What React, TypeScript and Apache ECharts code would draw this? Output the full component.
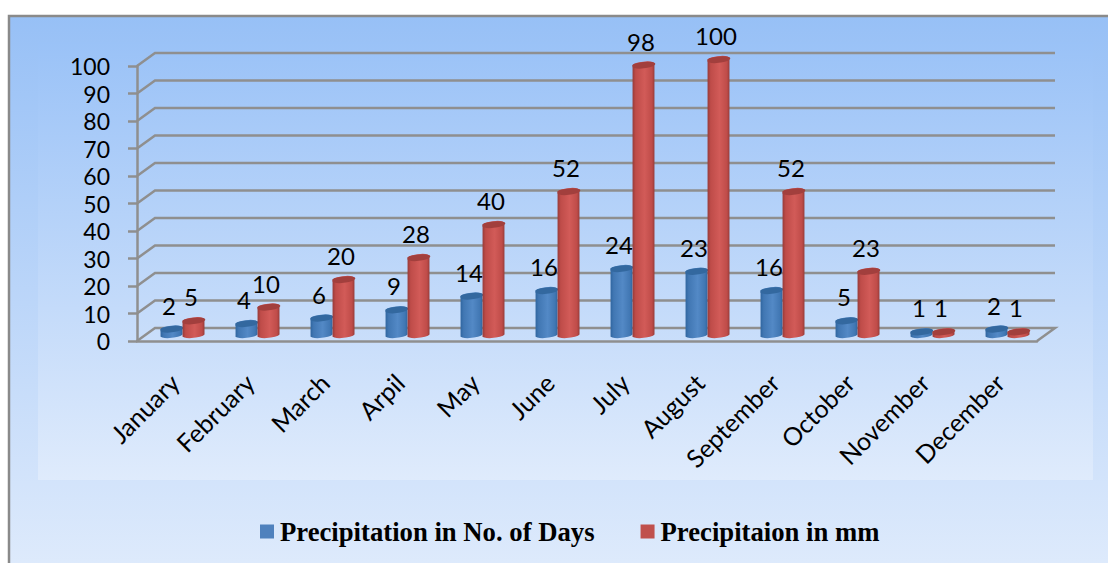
import React, { useEffect, useRef } from "react";
import * as echarts from "echarts";

const months = ["January", "February", "March", "Arpil", "May", "June", "July", "August", "September", "October", "November", "December"];
const rainyDays = [2, 4, 6, 9, 14, 16, 24, 23, 16, 5, 1, 2];
const rainfallMm = [5, 10, 20, 28, 40, 52, 98, 100, 52, 23, 1, 1];
const levels = [0, 10, 20, 30, 40, 50, 60, 70, 80, 90, 100];
const daysName = "Precipitation in No. of Days";
const mmName = "Precipitaion in mm";

const GREY = "#8f8f8f";
const DEPTH_X = 18;
const DEPTH_Y = -13;
const LABEL_FONT = "Lato, Carlito, sans-serif";

type Palette = { edge: string; mid: string; light: string; top: string };
const bluePalette: Palette = { edge: "#2f659f", mid: "#4177b3", light: "#5389c6", top: "#33689f" };
const redPalette: Palette = { edge: "#953a38", mid: "#bf4c49", light: "#d25b58", top: "#a23f3d" };

// Draws one tilted cylinder standing on the chart floor, with its value above it.
function cylinder(shift: number, palette: Palette) {
  return (_params: any, api: any) => {
    const category = api.value(0);
    const value = api.value(1);
    const base = api.coord([category, 0]);
    const head = api.coord([category, value]);
    const cx = base[0] + 8 + shift;
    const by = base[1] - 6.5;
    const ty = head[1] - 6.5;
    const w = 11;
    const ry = 2.8;
    const tilt = 6;
    const dx = w * Math.cos((tilt * Math.PI) / 180);
    const dy = w * Math.sin((tilt * Math.PI) / 180);
    const arc = (x: number, y: number) => `A ${w} ${ry} ${-tilt} 0 0 ${x} ${y}`;
    const body =
      `M ${cx - dx} ${ty + dy} L ${cx - dx} ${by + dy} ` +
      arc(cx + dx, by - dy) +
      ` L ${cx + dx} ${ty - dy} ` +
      arc(cx - dx, ty + dy) +
      " Z";
    const lid =
      `M ${cx - dx} ${ty + dy} ` + arc(cx + dx, ty - dy) + " " + arc(cx - dx, ty + dy) + " Z";
    return {
      type: "group",
      children: [
        {
          type: "path",
          shape: { pathData: body },
          style: {
            fill: new echarts.graphic.LinearGradient(0, 0, 1, 0, [
              { offset: 0, color: palette.edge },
              { offset: 0.15, color: palette.mid },
              { offset: 0.55, color: palette.light },
              { offset: 0.88, color: palette.mid },
              { offset: 1, color: palette.edge },
            ]),
          },
        },
        {
          type: "path",
          shape: { pathData: lid },
          style: { fill: palette.top },
        },
        {
          type: "text",
          style: {
            x: cx - 2.5,
            y: ty - 24,
            text: String(value),
            fill: "#000",
            font: `24px ${LABEL_FONT}`,
            align: "center",
            verticalAlign: "middle",
          },
        },
      ],
    };
  };
}

// One back-wall rule: rises from the value axis, then runs across the chart.
function wallLine(_params: any, api: any) {
  const level = api.value(1);
  const start = api.coord([0, level]);
  const band = api.size([1, 0])[0];
  const left = start[0] - band / 2;
  const right = left + band * months.length;
  const y = start[1];
  const points = [
    [left, y],
    [left + DEPTH_X, y + DEPTH_Y],
    [right + DEPTH_X, y + DEPTH_Y],
  ];
  if (level === 0) points.push([right, y]);
  return {
    type: "polyline",
    shape: { points },
    style: { stroke: GREY, lineWidth: 2.5, fill: "none" },
  };
}

export default function App() {
  const ref = useRef<HTMLDivElement>(null);

  useEffect(() => {
    document.body.style.margin = "0";
    const chart = echarts.init(ref.current!, undefined, { renderer: "svg" });
    chart.setOption({
      animation: false,
      backgroundColor: "#ffffff",
      graphic: [
        {
          type: "rect",
          z: -2,
          shape: { x: 9, y: 16, width: 1110, height: 560 },
          style: {
            fill: new echarts.graphic.LinearGradient(0, 0, 0, 1, [
              { offset: 0, color: "#97c0f6" },
              { offset: 1, color: "#dfebfc" },
            ]),
            stroke: "#8a8a8a",
            lineWidth: 2.5,
          },
        },
        {
          type: "rect",
          z: -1,
          shape: { x: 38, y: 42, width: 1055, height: 438 },
          style: {
            fill: new echarts.graphic.LinearGradient(0, 0, 0, 1, [
              { offset: 0, color: "#9ac2f7" },
              { offset: 1, color: "#dfebfc" },
            ]),
          },
        },
      ],
      grid: { left: 137, top: 66, width: 900, height: 275 },
      legend: {
        data: [
          { name: daysName, icon: "rect" },
          { name: mmName, icon: "rect" },
        ],
        left: 255,
        top: 513,
        itemWidth: 14,
        itemHeight: 14,
        itemGap: 46,
        textStyle: {
          color: "#000",
          fontFamily: "Liberation Serif, serif",
          fontWeight: "bold",
          fontSize: 26.7,
          padding: [0, 0, 0, 1],
        },
      },
      xAxis: {
        type: "category",
        data: months,
        boundaryGap: true,
        axisLine: { lineStyle: { color: GREY, width: 2.5 } },
        axisTick: { length: 9, lineStyle: { color: GREY, width: 2.5 } },
        axisLabel: {
          rotate: 45,
          interval: 0,
          margin: 37,
          color: "#000",
          fontFamily: LABEL_FONT,
          fontSize: 25,
        },
      },
      yAxis: {
        type: "value",
        min: 0,
        max: 100,
        interval: 10,
        splitLine: { show: false },
        axisLine: { show: true, lineStyle: { color: GREY, width: 2.5 } },
        axisTick: { show: true, length: 9, lineStyle: { color: GREY, width: 2.5 } },
        axisLabel: {
          margin: 27,
          color: "#000",
          fontFamily: LABEL_FONT,
          fontSize: 23,
        },
      },
      series: [
        {
          type: "custom",
          name: "wall",
          silent: true,
          z: 1,
          clip: false,
          renderItem: wallLine,
          data: levels.map((level) => [0, level]),
        },
        {
          type: "custom",
          name: daysName,
          z: 3,
          clip: false,
          itemStyle: { color: "#4f81bd" },
          renderItem: cylinder(-11, bluePalette),
          data: rainyDays.map((v, i) => [i, v]),
        },
        {
          type: "custom",
          name: mmName,
          z: 4,
          clip: false,
          itemStyle: { color: "#c0504d" },
          renderItem: cylinder(11, redPalette),
          data: rainfallMm.map((v, i) => [i, v]),
        },
      ],
    });
    return () => chart.dispose();
  }, []);

  return <div ref={ref} style={{ position: "fixed", left: 0, top: 0, width: 1108, height: 563 }} />;
}
